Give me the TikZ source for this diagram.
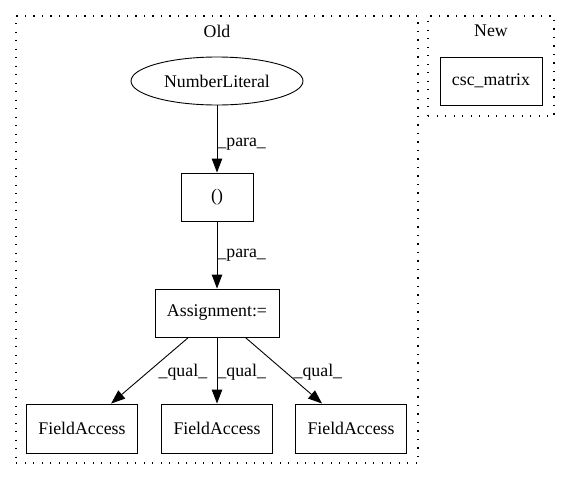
\documentclass[tikz,border=0pt]{standalone}
\usepackage{fontspec}
\setmainfont{Liberation Serif}
\usetikzlibrary{arrows.meta,shapes.geometric}
\tikzset{
cluster/.style={rectangle, draw=black, line width=1.3pt, dash pattern=on 1.3pt off 7.2pt, inner sep=0pt},
box/.style={rectangle, draw=black, line width=0.9pt, minimum height=48pt, inner sep=0pt},
oval/.style={ellipse, draw=black, line width=0.9pt, minimum height=48pt, inner sep=0pt},
title/.style={inner sep=0pt},
lbl/.style={anchor=west, inner sep=0pt},
arrow/.style={line width=0.9pt,-{Triangle[length=14pt,width=10.5pt]}},
}

\begin{document}
\begin{tikzpicture}[x=1pt,y=-1pt,font=\fontsize{17.8}{20}\selectfont]
\useasboundingbox (0,0) rectangle (571,480);

\node[cluster, minimum width=402pt, minimum height=447pt](old_cluster) at (217,239.5){};
\node[cluster, minimum width=126pt, minimum height=100pt](new_cluster) at (491,66){};
\node[title](old_title) at (217,31){Old};
\node[title](new_title) at (491,31){New};

\node[oval, minimum width=172pt](number_literal) at (217,81){NumberLiteral};
\node[box, minimum width=72pt](parens) at (217,197){()};
\node[box, minimum width=124pt](assignment) at (217,313){Assignment:=};
\node[box, minimum width=111pt, minimum height=49pt](field_access_1) at (82,428.5){FieldAccess};
\node[box, minimum width=111pt, minimum height=49pt](field_access_2) at (217,428.5){FieldAccess};
\node[box, minimum width=111pt, minimum height=49pt](field_access_3) at (351,428.5){FieldAccess};
\node[box, minimum width=102pt](csc_matrix) at (491,81){csc\_matrix};

\draw [arrow] (number_literal) -- node[lbl, pos=.57]{\_para\_} (parens);
\draw [arrow] (parens) -- node[lbl, pos=.5]{\_para\_} (assignment);
\draw [arrow] (assignment) -- node[lbl, pos=.52, xshift=10pt]{\_qual\_} (field_access_1);
\draw [arrow] (assignment) -- node[lbl, pos=.52]{\_qual\_} (field_access_2);
\draw [arrow] (assignment) -- node[lbl, pos=.52, xshift=8pt]{\_qual\_} (field_access_3);
\end{tikzpicture}
\end{document}
